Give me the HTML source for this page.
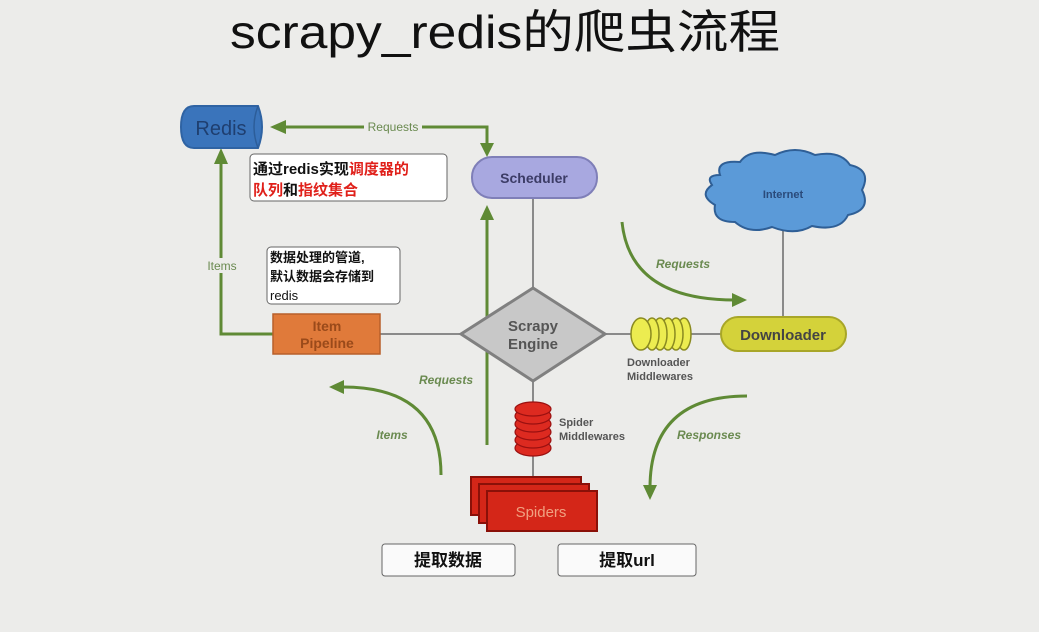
<!DOCTYPE html>
<html><head><meta charset="utf-8"><style>
html,body{margin:0;padding:0;background:#ececea;}
svg{display:block;}
</style></head><body>
<svg width="1039" height="632" viewBox="0 0 1039 632" xmlns="http://www.w3.org/2000/svg" font-family="Liberation Sans, sans-serif">
<rect width="1039" height="632" fill="#ececea"/>
<text x="230" y="48" font-size="46" textLength="550" lengthAdjust="spacingAndGlyphs" fill="#111" font-family="Liberation Sans, Noto Sans CJK SC, sans-serif">scrapy_redis的爬虫流程</text>

<!-- gray connectors -->
<g stroke="#8a8a8a" stroke-width="2" fill="none">
<line x1="533" y1="198" x2="533" y2="288"/>
<line x1="380" y1="334" x2="461" y2="334"/>
<line x1="605" y1="334" x2="722" y2="334"/>
<line x1="783" y1="228" x2="783" y2="318"/>
<line x1="533" y1="381" x2="533" y2="478"/>
</g>

<!-- green arrows -->
<g stroke="#5f8a35" stroke-width="3" fill="none">
<polyline points="285,127 487,127 487,145"/>
<polyline points="273,334 221,334 221,162"/>
<line x1="487" y1="445" x2="487" y2="215"/>
<path d="M622,222 Q630,300 735,300"/>
<path d="M747,396 Q650,396 650,488"/>
<path d="M441,475 Q441,387 343,387"/>
</g>
<g fill="#5f8a35">
<polygon points="270,127 286,120 286,134"/>
<polygon points="487,157 480,143 494,143"/>
<polygon points="221,148 214,164 228,164"/>
<polygon points="487,205 480,220 494,220"/>
<polygon points="747,300 732,293 732,307"/>
<polygon points="650,500 643,485 657,485"/>
<polygon points="329,387 344,380 344,394"/>
</g>
<rect x="364" y="120" width="58" height="14" fill="#ececea"/>
<text x="393" y="131" font-size="12" fill="#6a8a50" text-anchor="middle">Requests</text>
<rect x="204" y="258" width="36" height="15" fill="#ececea"/>
<text x="222" y="270" font-size="12" fill="#6a8a50" text-anchor="middle">Items</text>
<g font-size="12" font-weight="bold" font-style="italic" fill="#6a8a50">
<text x="683" y="268" text-anchor="middle">Requests</text>
<text x="446" y="384" text-anchor="middle">Requests</text>
<text x="392" y="439" text-anchor="middle">Items</text>
<text x="709" y="439" text-anchor="middle">Responses</text>
</g>

<!-- Redis -->
<path d="M194,106 H258 Q266,127 258,148 H194 Q181,148 181,127 Q181,106 194,106 Z" fill="#3a74bb" stroke="#2f63a3" stroke-width="2"/>
<path d="M258,106 Q250,127 258,148" stroke="#2c5d99" stroke-width="1.5" fill="none"/>
<text x="221" y="135" font-size="20" fill="#1f3f70" text-anchor="middle">Redis</text>

<!-- Scheduler -->
<rect x="472" y="157" width="125" height="41" rx="20" fill="#a8a8e0" stroke="#7f7fb8" stroke-width="2"/>
<text x="534" y="183" font-size="14" font-weight="bold" fill="#3c3c66" text-anchor="middle">Scheduler</text>

<!-- Engine -->
<polygon points="533,288 605,334 533,381 461,334" fill="#c8c8c8" stroke="#808080" stroke-width="3"/>
<text x="533" y="331" font-size="15" font-weight="bold" fill="#555" text-anchor="middle">Scrapy</text>
<text x="533" y="349" font-size="15" font-weight="bold" fill="#555" text-anchor="middle">Engine</text>

<!-- Item Pipeline -->
<rect x="273" y="314" width="107" height="40" fill="#e07a3a" stroke="#b85f2a" stroke-width="1.5"/>
<text x="327" y="331" font-size="14" font-weight="bold" fill="#9a4a1a" text-anchor="middle">Item</text>
<text x="327" y="348" font-size="14" font-weight="bold" fill="#9a4a1a" text-anchor="middle">Pipeline</text>

<!-- Downloader mw -->
<g fill="#ecec50" stroke="#8a8a20" stroke-width="1.5">
<ellipse cx="684" cy="334" rx="7" ry="16"/>
<ellipse cx="676" cy="334" rx="7" ry="16"/>
<ellipse cx="668" cy="334" rx="7" ry="16"/>
<ellipse cx="660" cy="334" rx="7" ry="16"/>
<ellipse cx="652" cy="334" rx="7" ry="16"/>
<ellipse cx="641" cy="334" rx="10" ry="16"/>
</g>
<text x="627" y="366" font-size="11" font-weight="bold" fill="#555">Downloader</text>
<text x="627" y="380" font-size="11" font-weight="bold" fill="#555">Middlewares</text>

<!-- Downloader -->
<rect x="721" y="317" width="125" height="34" rx="17" fill="#d4d23a" stroke="#a8a628" stroke-width="2"/>
<text x="783" y="340" font-size="15" font-weight="bold" fill="#444" text-anchor="middle">Downloader</text>

<!-- Internet cloud -->
<path d="M720,175 Q715,160 740,162 Q750,148 775,155 Q795,145 815,155 Q840,150 850,165 Q872,170 862,190 Q872,210 848,215 Q840,232 812,226 Q795,236 772,227 Q750,235 735,222 Q712,222 715,205 Q698,195 712,185 Q705,175 720,175 Z" fill="#5b9ad8" stroke="#2f5f96" stroke-width="2"/>
<text x="783" y="198" font-size="11" font-weight="bold" fill="#2a4a7a" text-anchor="middle">Internet</text>

<!-- Spider middlewares -->
<g fill="#dd2a20" stroke="#9a1010" stroke-width="1.2">
<ellipse cx="533" cy="448" rx="18" ry="8"/>
<ellipse cx="533" cy="440" rx="18" ry="8"/>
<ellipse cx="533" cy="432" rx="18" ry="8"/>
<ellipse cx="533" cy="424" rx="18" ry="8"/>
<ellipse cx="533" cy="416" rx="18" ry="8"/>
<ellipse cx="533" cy="409" rx="18" ry="7"/>
</g>
<text x="559" y="426" font-size="11" font-weight="bold" fill="#555">Spider</text>
<text x="559" y="440" font-size="11" font-weight="bold" fill="#555">Middlewares</text>

<!-- Spiders -->
<g fill="#d42618" stroke="#8a1008" stroke-width="2">
<rect x="471" y="477" width="110" height="38"/>
<rect x="479" y="484" width="110" height="39"/>
<rect x="487" y="491" width="110" height="40"/>
</g>
<text x="541" y="517" font-size="15" fill="#f0a080" text-anchor="middle">Spiders</text>

<!-- annotation boxes -->
<g font-family="Liberation Sans, Noto Sans CJK SC, sans-serif" font-weight="bold">
<rect x="250" y="154" width="197" height="47" rx="4" fill="#fff" stroke="#666" stroke-width="1"/>
<text x="253" y="174" font-size="15" fill="#111">通过redis实现<tspan fill="#e0201a">调度器的</tspan></text>
<text x="253" y="195" font-size="15" fill="#e0201a">队列<tspan fill="#111">和</tspan>指纹集合</text>

<rect x="267" y="247" width="133" height="57" rx="4" fill="#fff" stroke="#666" stroke-width="1"/>
<text x="270" y="262" font-size="13" fill="#111">数据处理的管道,</text>
<text x="270" y="281" font-size="13" fill="#111">默认数据会存储到</text>
<text x="270" y="300" font-size="13" font-weight="normal" fill="#111">redis</text>

<rect x="382" y="544" width="133" height="32" rx="3" fill="#fafafa" stroke="#666" stroke-width="1"/>
<text x="448" y="566" font-size="17" fill="#111" text-anchor="middle">提取数据</text>
<rect x="558" y="544" width="138" height="32" rx="3" fill="#fafafa" stroke="#666" stroke-width="1"/>
<text x="627" y="566" font-size="17" fill="#111" text-anchor="middle">提取url</text>
</g>
</svg>
</body></html>
